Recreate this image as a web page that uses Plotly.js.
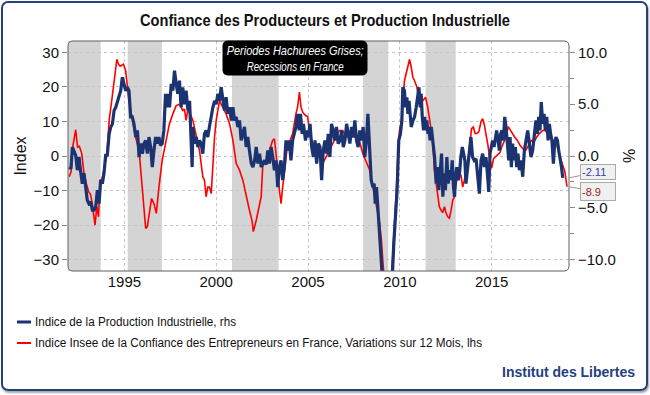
<!DOCTYPE html>
<html>
<head>
<meta charset="utf-8">
<script src="https://cdn.plot.ly/plotly-3.0.1.min.js"></script>
<style>
  html, body { margin: 0; padding: 0; background: #ffffff; }
  #wrap { position: relative; width: 650px; height: 395px; overflow: hidden; background: #fff; }
  #chart { position: absolute; left: 0; top: 0; width: 650px; height: 395px; }
  #frame { position: absolute; left: 1px; top: 1px; width: 643px; height: 386px;
           border: 2px solid #24407f; border-radius: 7px; pointer-events: none;
           box-shadow: 1px 2px 2px rgba(0,0,0,0.35); }
</style>
</head>
<body>
<div id="wrap"><div id="chart"></div><div id="frame"></div></div>
<script>
// ---- DATA ----
// Indice de la Production Industrielle (rhs, %)
var blueX = [1992.00,1992.09,1992.17,1992.26,1992.35,1992.44,1992.53,1992.62,1992.71,1992.80,1992.89,1992.98,
1993.07,1993.17,1993.26,1993.35,1993.44,1993.53,1993.62,1993.71,1993.80,1993.89,1993.98,
1994.07,1994.17,1994.26,1994.35,1994.44,1994.53,1994.62,1994.71,1994.80,1994.89,1994.98,
1995.07,1995.16,1995.25,1995.34,1995.43,1995.52,1995.62,1995.71,1995.80,1995.89,1995.98,
1996.07,1996.16,1996.25,1996.34,1996.43,1996.52,1996.61,1996.70,1996.79,1996.88,1996.97,
1997.06,1997.15,1997.24,1997.30,1997.37,1997.46,1997.55,1997.64,1997.73,1997.82,1997.91,
1998.00,1998.09,1998.18,1998.27,1998.36,1998.46,1998.55,1998.64,1998.69,1998.73,1998.82,1998.91,
1999.00,1999.09,1999.18,1999.27,1999.36,1999.45,1999.54,1999.63,1999.73,1999.82,1999.91,
2000.00,2000.09,2000.18,2000.27,2000.36,2000.45,2000.54,2000.63,2000.73,2000.82,2000.91,
2001.00,2001.09,2001.18,2001.27,2001.36,2001.45,2001.54,2001.63,2001.72,2001.81,2001.91,
2002.00,2002.09,2002.18,2002.27,2002.36,2002.45,2002.54,2002.63,2002.72,2002.81,2002.90,2002.99,
2003.08,2003.17,2003.26,2003.35,2003.44,2003.53,2003.62,2003.71,2003.80,2003.89,2003.98,
2004.07,2004.16,2004.25,2004.34,2004.43,2004.52,2004.59,2004.68,2004.75,2004.86,2004.93,
2005.02,2005.11,2005.20,2005.29,2005.38,2005.47,2005.56,2005.65,2005.74,2005.83,2005.92,
2006.01,2006.10,2006.19,2006.28,2006.37,2006.46,2006.55,2006.64,2006.74,2006.83,2006.92,
2007.01,2007.10,2007.19,2007.28,2007.37,2007.46,2007.55,2007.64,2007.73,2007.82,2007.91,
2008.00,2008.09,2008.18,2008.26,2008.35,2008.44,2008.53,2008.60,2008.66,2008.73,2008.80,2008.89,2008.98,
2009.07,2009.16,2009.25,2009.34,2009.43,2009.52,2009.58,2009.67,2009.76,2009.85,2009.94,
2010.03,2010.11,2010.16,2010.25,2010.31,2010.38,2010.44,2010.50,2010.56,2010.62,2010.71,2010.80,2010.89,2010.98,
2011.04,2011.11,2011.16,2011.22,2011.29,2011.35,2011.40,2011.47,2011.53,2011.58,2011.65,2011.71,2011.80,2011.89,2011.98,
2012.07,2012.12,2012.19,2012.27,2012.34,2012.41,2012.48,2012.56,2012.63,2012.70,2012.78,2012.85,2012.92,2012.98,
2013.03,2013.10,2013.18,2013.25,2013.32,2013.40,2013.47,2013.54,2013.60,2013.69,2013.78,2013.87,2013.96,
2014.05,2014.15,2014.24,2014.33,2014.42,2014.51,2014.60,2014.69,2014.78,2014.84,2014.91,2014.98,
2015.05,2015.13,2015.20,2015.27,2015.35,2015.42,2015.49,2015.56,2015.64,2015.71,2015.78,2015.85,2015.93,
2016.00,2016.07,2016.14,2016.21,2016.29,2016.36,2016.43,2016.51,2016.60,2016.69,2016.78,2016.87,2016.96,
2017.05,2017.14,2017.23,2017.29,2017.34,2017.41,2017.49,2017.56,2017.63,2017.70,2017.78,2017.85,2017.92,
2018.00,2018.07,2018.14,2018.21,2018.28,2018.36,2018.43,2018.50,2018.58,2018.65,2018.72,2018.80,2018.87];
var blueY = [-1.07,-1.23,0.87,0.53,0.07,-1.37,-0.10,-1.53,-2.67,-1.67,-3.30,-4.27,
-4.60,-4.43,-5.23,-5.23,-4.90,-3.30,-4.60,-2.33,-2.67,-1.67,0.07,
0.07,2.13,2.80,3.10,4.40,4.70,5.33,5.67,6.30,7.60,6.97,
6.30,6.63,6.30,3.77,3.77,3.10,1.83,2.47,-0.10,1.20,0.23,
1.20,1.50,0.23,1.83,0.87,-1.07,0.53,1.83,1.20,1.83,1.03,
1.20,2.47,6.00,4.70,6.00,4.70,6.97,6.30,8.23,6.97,6.00,
7.27,4.70,6.63,5.00,6.30,4.40,5.33,0.53,-1.07,2.80,1.20,1.83,
0.87,1.50,1.20,0.23,2.13,2.47,1.83,2.80,4.07,4.70,5.33,
5.00,6.00,5.33,6.63,5.67,4.40,5.67,4.07,4.70,3.43,4.70,
3.43,3.77,2.80,3.43,1.50,2.13,2.80,0.87,1.83,0.53,-0.73,
-1.07,-0.42,0.87,-0.73,0.23,-1.07,-0.73,-0.42,-0.83,0.53,-0.73,0.87,
-0.10,-1.37,-0.42,-3.00,-1.07,-0.42,-2.33,-1.07,1.50,0.53,1.50,
-0.42,1.50,2.13,2.80,4.07,2.47,4.07,2.13,3.10,1.50,2.47,
1.83,3.10,0.87,-0.10,1.50,-0.73,1.20,0.87,-2.33,0.53,1.50,
0.23,2.13,-0.10,3.10,2.47,1.50,2.80,1.20,1.50,2.47,0.87,
1.50,3.10,2.13,1.20,2.80,1.83,3.43,1.50,0.87,2.47,1.50,
2.80,-0.10,1.50,4.07,-0.10,-2.33,-3.00,-2.67,-4.60,-3.00,-4.90,-7.47,-9.67,
-13.0,-16.0,-19.0,-20.0,-18.0,-14.0,-11.0,-8.43,-5.87,-3.30,1.50,
2.13,3.43,6.63,6.30,4.70,5.67,4.07,5.33,4.07,2.80,3.43,3.77,4.70,5.67,
6.63,4.70,6.00,3.77,2.47,3.77,2.47,3.43,2.13,2.80,1.50,2.80,1.20,-0.10,-2.67,
-1.07,-3.30,-1.67,0.23,-3.93,-1.67,-3.30,-0.10,-2.67,-1.37,-2.33,-0.42,-3.00,-3.93,
-2.00,-1.07,-2.33,-1.67,-0.10,0.87,0.23,-0.42,-2.67,-1.07,-0.10,1.83,-0.10,
-0.42,-0.27,-2.33,-3.63,-0.42,0.23,-1.07,-0.10,-2.00,-3.47,0.23,0.87,
1.50,0.87,1.83,2.47,1.50,0.53,2.13,2.47,1.50,3.77,2.80,1.50,-0.42,
1.83,-1.07,1.20,-0.42,0.87,-1.07,0.23,-1.37,-0.42,-2.00,0.53,1.50,2.47,
1.20,-0.10,0.53,1.50,2.80,3.43,2.13,3.77,2.47,5.20,3.10,4.07,2.47,
3.77,1.50,3.10,2.13,1.50,-0.73,1.20,1.83,1.50,0.53,-0.10,-1.07,-2.11];

// Indice Insee de la Confiance des Entrepreneurs en France, variations sur 12 mois (lhs)
var redX = [1992.00,1992.10,1992.20,1992.35,1992.45,1992.55,1992.68,1992.80,1992.93,
1993.06,1993.15,1993.25,1993.40,1993.50,1993.59,1993.68,1993.77,1993.86,1993.95,
1994.04,1994.17,1994.31,1994.46,1994.59,1994.68,1994.77,1994.95,
1995.07,1995.25,1995.43,1995.61,1995.80,1995.98,
1996.16,1996.25,1996.34,1996.48,1996.61,1996.74,1996.88,
1997.06,1997.24,1997.30,1997.45,1997.64,1997.82,
1998.00,1998.18,1998.27,1998.36,1998.45,1998.55,1998.73,1998.91,
1999.09,1999.18,1999.27,1999.36,1999.45,1999.54,1999.63,1999.73,1999.82,1999.91,
2000.00,2000.18,2000.27,2000.36,2000.54,2000.73,2000.91,
2001.09,2001.18,2001.27,2001.45,2001.63,2001.81,2001.96,
2002.02,2002.18,2002.32,2002.45,2002.54,2002.72,2002.90,
2003.07,2003.17,2003.26,2003.35,2003.44,2003.53,2003.62,2003.71,2003.80,2003.89,
2004.02,2004.16,2004.34,2004.43,2004.53,2004.62,2004.71,2004.86,2004.98,
2005.07,2005.25,2005.43,2005.62,2005.80,2005.98,
2006.16,2006.34,2006.52,2006.70,2006.89,
2007.07,2007.25,2007.43,2007.61,2007.79,2007.98,
2008.16,2008.35,2008.53,2008.72,2008.90,2008.99,
2009.08,2009.20,2009.35,2009.50,2009.62,2009.71,2009.80,2009.89,2009.98,
2010.07,2010.16,2010.25,2010.38,2010.53,2010.62,2010.71,2010.80,2010.93,
2011.03,2011.16,2011.25,2011.40,2011.52,2011.61,2011.70,2011.79,2011.88,2011.97,
2012.06,2012.15,2012.24,2012.33,2012.43,2012.52,2012.61,2012.70,2012.79,2012.88,2012.97,
2013.06,2013.15,2013.24,2013.33,2013.42,2013.51,2013.60,2013.70,2013.80,2013.90,
2014.00,2014.10,2014.20,2014.30,2014.42,2014.51,2014.60,2014.70,2014.80,2014.90,
2015.00,2015.10,2015.25,2015.35,2015.45,2015.55,2015.65,2015.78,2015.90,
2016.00,2016.12,2016.25,2016.40,2016.55,2016.70,2016.85,
2017.00,2017.15,2017.30,2017.45,2017.60,2017.78,2017.92,
2018.05,2018.15,2018.30,2018.50,2018.66,2018.84,2018.99,2019.10];
var redY = [-6.0,-4.5,3.0,7.6,2.6,2.8,0.7,-5.0,-8.0,
-10.4,-11.0,-13.8,-20.0,-14.7,-17.6,-7.0,-7.0,-5.0,-2.2,
0.0,10.3,16.0,21.8,28.0,26.6,26.0,26.6,
24.7,16.0,10.3,5.5,1.6,-9.0,
-21.0,-20.5,-16.6,-12.3,-13.8,-16.6,-9.0,
-1.2,3.6,5.5,9.3,12.2,14.6,
15.0,13.2,13.6,10.3,13.2,12.7,10.3,6.4,
1.6,-2.2,-6.0,-7.0,-11.8,-9.0,-9.0,-10.9,-0.3,5.5,
10.3,16.0,15.0,14.1,12.2,9.3,4.5,
-2.2,-3.2,-4.1,-7.0,-10.9,-15.7,-19.0,
-21.9,-18.6,-14.7,-11.8,-2.2,-1.7,1.6,
4.5,5.0,0.7,-4.1,-9.9,-13.8,-9.0,-5.0,-1.2,3.6,
4.5,6.4,12.2,14.1,18.5,14.1,12.7,11.7,11.4,
7.4,3.6,1.6,0.7,-2.2,-0.3,
1.6,3.6,5.5,7.4,7.4,
5.5,6.4,5.5,5.5,4.5,0.7,
-1.5,-4.0,-9.0,-14.7,-19.5,-24.0,
-34.0,-40.0,-42.0,-38.0,-28.0,-20.5,-10.9,-0.3,7.4,
9.3,17.0,21.8,24.7,28.0,25.7,22.8,21.8,19.9,
16.5,18.0,16.0,17.0,14.1,10.8,7.4,4.5,-4.1,-8.0,
-11.8,-14.7,-15.7,-16.4,-14.7,-16.6,-17.6,-18.0,-15.7,-12.8,-11.8,
-8.0,-6.0,-5.6,-5.6,-9.0,-7.0,-5.0,-2.0,2.5,7.9,
8.4,6.5,6.6,7.0,10.0,10.8,9.0,6.5,3.0,-1.0,
-3.5,-0.8,0.0,0.5,1.0,2.6,4.0,5.5,8.5,
7.6,6.5,5.5,4.5,3.0,2.1,1.6,
3.0,4.5,4.0,5.5,6.5,7.4,7.4,
6.4,5.5,4.5,4.5,0.7,-2.2,-4.6,-8.9];

// Recessions en France (grey bands)
var recStart = [1991.90, 1995.18, 2000.86, 2008.00, 2011.40];
var recEnd   = [1993.71, 1997.04, 2003.40, 2009.37, 2013.04];

var xTicks = [1995, 2000, 2005, 2010, 2015];
var yLeftTicks = [-30, -20, -10, 0, 10, 20, 30];

var titleText = "Confiance des Producteurs et Production Industrielle";
var blueName = "Indice de la Production Industrielle, rhs";
var redName  = "Indice Insee de la Confiance des Entrepreneurs en France, Variations sur 12 Mois, lhs";
var noteLines = ["Periodes Hachurees Grises;", "Recessions en France"];
var sourceText = "Institut des Libertes";
var blueLast = "-2.11";
var redLast  = "-8.9";

// ---- STYLE ----
var BLUE = "#1c3372", RED = "#ff0000", NAVY = "#24407f";
var SANS = "'Liberation Sans', Arial, sans-serif";

// plot area in pixels
var L = 68, R = 569, T = 41, B = 271, W = 650, H = 395;
function px(x) { return (x - L) / (R - L); }
function py(y) { return (B - y) / (B - T); }

function roundRect(x0, y0, x1, y1, r) {
  var rx = r / (R - L), ry = r / (B - T);
  var a = px(x0), b = px(x1), top = py(y0), bot = py(y1);
  return "M" + (a + rx) + "," + top + " L" + (b - rx) + "," + top +
         " Q" + b + "," + top + " " + b + "," + (top - ry) +
         " L" + b + "," + (bot + ry) + " Q" + b + "," + bot + " " + (b - rx) + "," + bot +
         " L" + (a + rx) + "," + bot + " Q" + a + "," + bot + " " + a + "," + (bot + ry) +
         " L" + a + "," + (top - ry) + " Q" + a + "," + top + " " + (a + rx) + "," + top + " Z";
}

var shapes = [];
for (var i = 0; i < recStart.length; i++) {
  shapes.push({type: "rect", xref: "x", yref: "paper", x0: recStart[i], x1: recEnd[i], y0: 0, y1: 1,
               fillcolor: "#d4d4d4", line: {width: 0}, layer: "below"});
}
shapes.push({type: "path", xref: "paper", yref: "paper", path: roundRect(L, T, R, B, 5),
             line: {color: "#606060", width: 1}, layer: "above"});
shapes.push({type: "path", xref: "paper", yref: "paper", path: roundRect(223, 41, 367, 75, 5),
             fillcolor: "#000000", line: {color: "#000000", width: 1}, layer: "above"});
shapes.push({type: "line", xref: "paper", yref: "paper", x0: px(17), x1: px(31), y0: py(322), y1: py(322),
             line: {color: BLUE, width: 3}});
shapes.push({type: "line", xref: "paper", yref: "paper", x0: px(17), x1: px(31), y0: py(343), y1: py(343),
             line: {color: RED, width: 2}});

var annotations = [
  {xref: "paper", yref: "paper", x: px(295), y: py(58.5), xanchor: "center", yanchor: "middle", showarrow: false,
   text: "<i>" + noteLines.join("<br>") + "</i>",
   font: {family: SANS, size: 12.5, color: "#ffffff"}, align: "center"},
  {xref: "paper", yref: "paper", x: px(33), y: py(322), xanchor: "left", yanchor: "middle", showarrow: false,
   align: "left", text: blueName, font: {family: SANS, size: 12, color: "#111"}},
  {xref: "paper", yref: "paper", x: px(33), y: py(343), xanchor: "left", yanchor: "middle", showarrow: false,
   align: "left", text: redName, font: {family: SANS, size: 12, color: "#111"}},
  {xref: "paper", yref: "paper", x: px(637), y: py(372), xanchor: "right", yanchor: "middle", showarrow: false,
   align: "right", text: "<b>" + sourceText + "</b>", font: {family: SANS, size: 14, color: NAVY}},
  {xref: "paper", yref: "y2", x: 1, y: blueY[blueY.length - 1], text: blueLast,
   showarrow: true, arrowhead: 0, arrowcolor: "#999", arrowwidth: 1, ax: 29, ay: -6,
   width: 32, height: 12, align: "left",
   bgcolor: "#f0f0f0", bordercolor: "#aaaaaa", borderwidth: 1, borderpad: 1,
   font: {family: SANS, size: 11, color: "#3a3ab0"}},
  {xref: "paper", yref: "y", x: 1, y: redY[redY.length - 1], text: redLast,
   showarrow: true, arrowhead: 0, arrowcolor: "#999", arrowwidth: 1, ax: 29, ay: 5,
   width: 32, height: 15, align: "left",
   bgcolor: "#f0f0f0", bordercolor: "#aaaaaa", borderwidth: 1, borderpad: 1,
   font: {family: SANS, size: 11, color: "#a02020"}}
];

var traces = [
  {x: redX, y: redY, type: "scatter", mode: "lines", name: redName, yaxis: "y",
   line: {color: RED, width: 1.6}, showlegend: false, hoverinfo: "skip"},
  {x: blueX, y: blueY, type: "scatter", mode: "lines", name: blueName, yaxis: "y2",
   line: {color: BLUE, width: 3.2}, showlegend: false, hoverinfo: "skip"}
];

var layout = {
  width: W, height: H,
  margin: {l: L, r: W - R, t: T, b: H - B, autoexpand: false},
  paper_bgcolor: "#ffffff", plot_bgcolor: "#ffffff",
  showlegend: false,
  title: {text: "<b>" + titleText + "</b>",
          x: 0.5, xref: "container", y: 1 - 20 / H, yref: "container", yanchor: "middle",
          font: {family: SANS, size: 17, color: "#111"}},
  xaxis: {range: [1991.93, 2019.21], tickmode: "array", tickvals: xTicks, ticktext: xTicks.map(String),
          showgrid: true, gridcolor: "#c4c4c4", griddash: "dot", gridwidth: 1,
          zeroline: false, showline: false, ticks: "", ticklen: 0,
          tickfont: {family: SANS, size: 15, color: "#111"}, automargin: false},
  yaxis: {range: [-33.3, 33.3], tickmode: "array", tickvals: yLeftTicks,
          showgrid: true, gridcolor: "#c4c4c4", griddash: "dot", gridwidth: 1,
          zeroline: false, showline: false, ticks: "outside", ticklen: 5, tickcolor: "#888",
          tickfont: {family: SANS, size: 15, color: "#111"}, automargin: false,
          title: {text: "Index", standoff: 2, font: {family: SANS, size: 16, color: "#111"}}},
  yaxis2: {range: [-11.1, 11.1], overlaying: "y", side: "right", tickmode: "linear", tick0: 0, dtick: 5,
           tickformat: ".1f", showgrid: false, zeroline: false, showline: false,
           ticks: "outside", ticklen: 5, tickcolor: "#888",
           minor: {dtick: 2.5, tick0: 0, ticks: "outside", ticklen: 4, tickcolor: "#888", showgrid: false},
           tickfont: {family: SANS, size: 15, color: "#111"}, automargin: false,
           title: {text: "%", standoff: 8, font: {family: SANS, size: 16, color: "#111"}}},
  shapes: shapes,
  annotations: annotations
};

// squeeze text horizontally to imitate the narrow typeface of the original
function squeeze(el, target) {
  if (!el) return;
  el.setAttribute("textLength", target);
  el.setAttribute("lengthAdjust", "spacingAndGlyphs");
}

Plotly.newPlot("chart", traces, layout, {staticPlot: true, displayModeBar: false}).then(function (gd) {
  squeeze(gd.querySelector(".gtitle"), 370);
  var ann = function (k) { return gd.querySelector('.annotation[data-index="' + k + '"] .annotation-text'); };
  var note = ann(0);
  if (note) {
    var lines = note.querySelectorAll("tspan.line");
    if (lines.length >= 2) { squeeze(lines[0], 137); squeeze(lines[1], 97); }
  }
  squeeze(ann(1), 201);
  squeeze(ann(2), 447);
});
</script>
</body>
</html>
